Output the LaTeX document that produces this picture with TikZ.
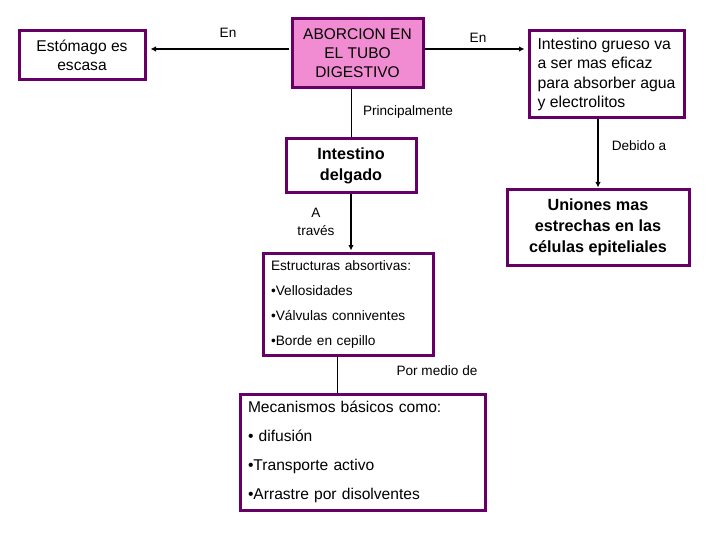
\documentclass[tikz,border=0pt]{standalone}
\usepackage{fontspec}
\setmainfont{Liberation Sans}
\usetikzlibrary{arrows.meta}
\definecolor{bordc}{RGB}{102,0,102}
\definecolor{pinkf}{RGB}{242,140,210}
\tikzset{
  box/.style={draw=bordc, line width=3pt, inner sep=0pt, align=center},
  lbl/.style={inner sep=0pt, align=center, font=\fontsize{13.6}{18}\selectfont},
  arr/.style={line width=2pt, -{Latex[length=5.5pt,width=5.5pt]}},
  thin/.style={line width=1pt}
}
\begin{document}
\begin{tikzpicture}[x=1pt,y=-1pt]
\useasboundingbox (0,0) rectangle (720,540);
\node[box, minimum width=126pt, minimum height=49pt, font=\fontsize{15.6}{19}\selectfont] (stom) at (82,55.5) {Estómago es\\escasa};
\node[box, fill=pinkf, minimum width=131pt, minimum height=69pt, font=\fontsize{15.5}{19}\selectfont] (abs) at (357.5,53.5) {ABORCION EN\\EL TUBO\\DIGESTIVO};
\node[box, minimum width=155pt, minimum height=87pt, align=left, font=\fontsize{15.8}{19.5}\selectfont] (grue) at (606.5,74.5) {Intestino grueso va\\a ser mas eficaz\\para absorber agua\\y electrolitos};
\node[box, minimum width=130pt, minimum height=54pt, font=\bfseries\fontsize{16.2}{21}\selectfont] (delg) at (351,166) {Intestino\\delgado};
\node[box, minimum width=182pt, minimum height=75pt, font=\bfseries\fontsize{16.2}{21}\selectfont] (uni) at (598,227.5) {Uniones mas\\estrechas en las\\células epiteliales};
\node[box, minimum width=170pt, minimum height=102pt, text width=154pt, align=left, font=\fontsize{13.7}{25}\selectfont] (estr) at (348,304) {Estructuras absortivas:\\•Vellosidades\\•Válvulas conniventes\\•Borde en cepillo};
\node[box, minimum width=245pt, minimum height=116pt, text width=229pt, align=left, font=\fontsize{15.6}{29}\selectfont] (mec) at (362.5,452) {Mecanismos básicos como:\\• difusión\\•Transporte activo\\•Arrastre por disolventes};

\coordinate (aw) at ([yshift=4.5pt]abs.west);
\coordinate (ae) at ([yshift=4.5pt]abs.east);
\coordinate (es) at ([xshift=-11pt]estr.south);
\draw[arr, shorten <=2pt, shorten >=4pt] (aw) -- (stom.east |- aw);
\draw[arr, shorten >=3pt] (ae) -- (grue.west |- ae);
\draw[thin] (delg.north |- abs.south) -- (delg.north);
\draw[arr, shorten >=1pt] (delg.south) -- (delg.south |- estr.north);
\draw[arr, shorten >=1pt] (uni.north |- grue.south) -- (uni.north);
\draw[thin] (es) -- (es |- mec.north);

\node[lbl] (l1) at (228,33) {En};
\node[lbl] (l2) at (478,38) {En};
\node[lbl] (l3) at (408,112) {Principalmente};
\node[lbl] (l4) at (316,222) {A\\través};
\node[lbl] (l5) at (639,146) {Debido a};
\node[lbl] (l6) at (437,371) {Por medio de};
\end{tikzpicture}
\end{document}
